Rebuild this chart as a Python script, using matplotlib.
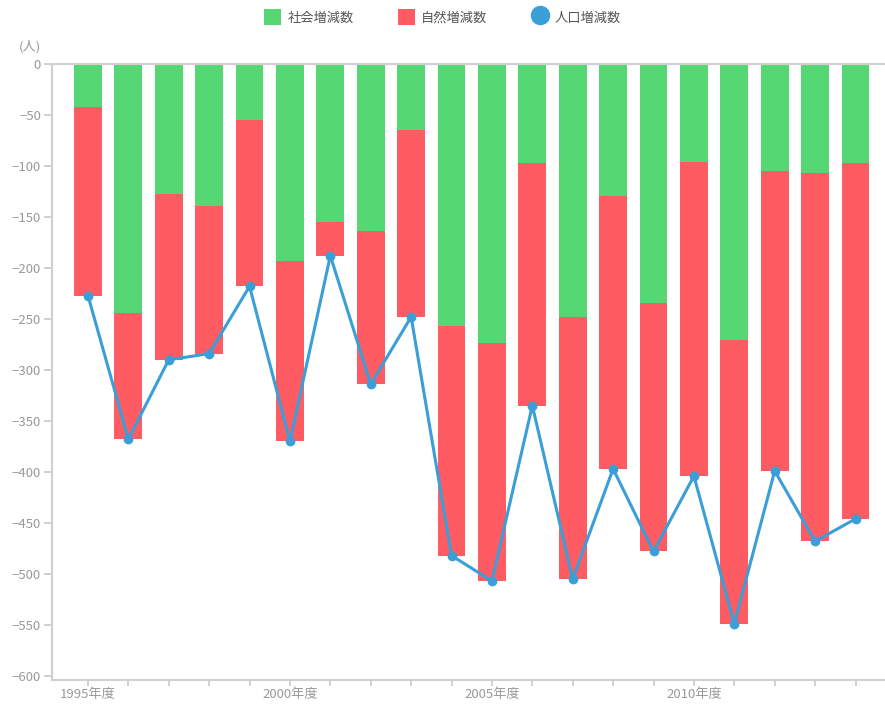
import matplotlib.pyplot as plt
from matplotlib.lines import Line2D
from matplotlib.patches import Patch

plt.rcParams['font.family'] = ['Noto Sans CJK JP', 'DejaVu Sans']

# 年度
years = list(range(1995, 2015))
# 社会増減数
shakai = [-42, -244, -127, -139, -55, -193, -155, -164, -65, -257,
          -274, -97, -248, -129, -234, -96, -271, -105, -107, -97]
# 人口増減数
jinko = [-227, -368, -290, -284, -218, -370, -188, -314, -248, -482,
         -507, -335, -505, -397, -478, -404, -549, -399, -468, -446]
# 自然増減数 = 人口増減数 - 社会増減数
shizen = [j - s for j, s in zip(jinko, shakai)]

green = '#55d873'
red = '#ff5b62'
blue = '#3a9fd8'
gray = '#999999'

fig = plt.figure(figsize=(8.85, 7.04), dpi=100)
ax = fig.add_axes([52 / 885, 1 - 680 / 704, 1 - 52 / 885, (680 - 64) / 704])

x = list(range(len(years)))
ax.bar(x, shakai, width=0.69, color=green, zorder=2)
ax.bar(x, shizen, width=0.69, bottom=shakai, color=red, zorder=2)
ax.plot(x, jinko, color=blue, lw=2.2, marker='o', ms=6, zorder=3)

ax.set_xlim(-0.89, 19.73)
ax.set_ylim(-604, 0)
ax.set_yticks(range(-600, 1, 50))
ax.set_xticks(x)
ax.set_xticklabels([f'{y}年度' if y % 5 == 0 else '' for y in years])

ax.spines['right'].set_visible(False)
for s in ['left', 'bottom', 'top']:
    ax.spines[s].set_color('#d0d0d0')
    ax.spines[s].set_linewidth(1.5)
ax.tick_params(colors='#c8c8c8', labelcolor=gray, labelsize=9.5, length=4, width=1.2)
ax.tick_params(axis='x', pad=2)
ax.tick_params(axis='y', length=6, pad=2)
ax.axhline(0, color='#c8c8c8', lw=1.5, zorder=1)

fig.text(30 / 885, 1 - 47 / 704, '(人)', color=gray, fontsize=9.5, ha='center', va='center')

handles = [
    Patch(facecolor=green, label='社会増減数'),
    Patch(facecolor=red, label='自然増減数'),
    Line2D([], [], color=blue, marker='o', ls='none', ms=13, label='人口増減数'),
]
leg = fig.legend(handles=handles, loc='center', bbox_to_anchor=(0.5, 1 - 17 / 704), ncol=3,
                 frameon=False, fontsize=9.5, handlelength=1.3, handleheight=1.4,
                 columnspacing=3.3, handletextpad=0.5)
for t in leg.get_texts():
    t.set_color('#555555')

fig.savefig('out.png', dpi=100)
